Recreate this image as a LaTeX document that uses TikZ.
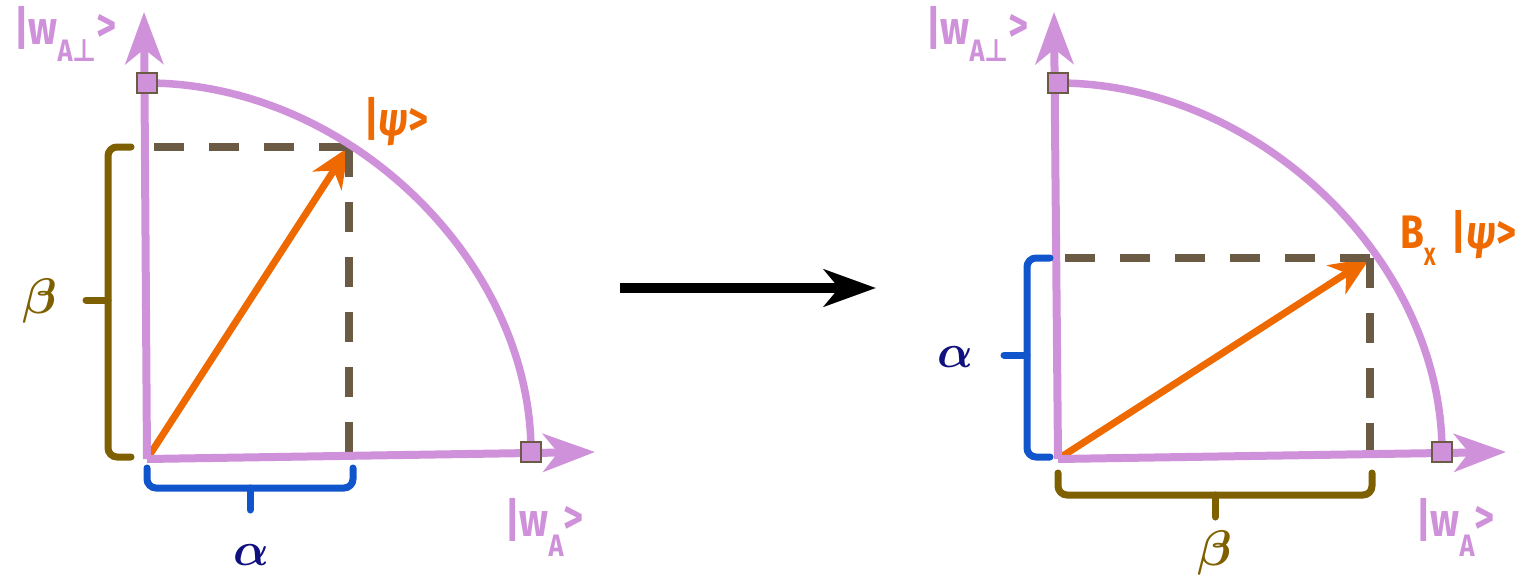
\documentclass[tikz,border=0pt]{standalone}
\usepackage{fontspec}
\setmainfont{Fira Sans}
\newfontfamily\lblf{Fira Sans}[FakeStretch=0.82]
\newfontfamily\djv{DejaVu Sans}[FakeStretch=0.85]
\usepackage{amsmath}
\usepackage{graphicx}
\usetikzlibrary{arrows.meta}
\definecolor{pinkc}{HTML}{CF91D9}
\definecolor{orangec}{HTML}{EE6A00}
\definecolor{dashc}{HTML}{6B5B45}
\definecolor{olivec}{HTML}{7F6000}
\definecolor{bluec}{HTML}{1155CC}
\definecolor{navyc}{HTML}{10107F}
\newcommand\bigf{\lblf\fontsize{47}{50}\selectfont\bfseries}
\newcommand\subf{\lblf\fontsize{31}{34}\selectfont\bfseries}
\newcommand\xsubf{\lblf\fontsize{25}{28}\selectfont\bfseries}
\newcommand\perpg{{\djv\bfseries ⊥}}
\begin{document}
\begin{tikzpicture}[x=1pt,y=-1pt,
  axisline/.style={pinkc, line width=8pt, -{Stealth[length=52pt,width=38pt,inset=15pt]}},
  arcline/.style={pinkc, line width=7.5pt},
  sq/.style={draw=dashc, fill=pinkc, line width=2pt, minimum size=20pt, inner sep=0pt},
  dashline/.style={dashc, line width=7.5pt, dash pattern=on 30pt off 25pt},
  vec/.style={orangec, line width=7pt, -{Stealth[length=40pt,width=34pt,inset=12pt]}},
  bigarrow/.style={black, line width=10pt, -{Stealth[length=52pt,width=37pt,inset=15pt]}},
  bracepath/.style={line width=7pt, rounded corners=9pt, line cap=round},
  ticky/.style={line width=7pt, line cap=round},
  lbl/.style={inner sep=0pt, anchor=base west},
  greek/.style={inner sep=0pt}
]
\useasboundingbox (0,0) rectangle (1520,578);

% ---------- left diagram ----------
\coordinate (o1) at (147,459);
\coordinate (t1) at (144,12);
\coordinate (r1) at (595,452);
\coordinate (c1) at (349,147);
\node[sq] (s1a) at (147,83) {};
\node[sq] (s1b) at (531,452) {};

\draw[vec] (o1) -- (c1);
\draw[dashline] (c1) -- (o1 |- c1);
\draw[dashline] (c1) -- (c1 |- o1);
\draw[axisline] (o1) -- (t1);
\draw[axisline] (o1) -- (r1);
\draw[arcline] (s1a.center) .. controls (347,83) and (531,260) .. (s1b.center);
\node[sq] at (s1a) {};
\node[sq] at (s1b) {};

% left brace (beta)
\draw[olivec, bracepath] (131,147) -- (108,147) -- (108,457) -- (131,457);
\draw[olivec, ticky] (108,300) -- (86,300);
\node[greek, olivec] (beta1) at (40,301) {\scalebox{5}{$\boldsymbol{\beta}$}};
% bottom brace (alpha)
\draw[bluec, bracepath] (147,468) -- (147,488) -- (353,488) -- (353,468);
\draw[bluec, ticky] (250,488) -- (250,510);
\node[greek, navyc] (alpha1) at (251,555) {\scalebox{4.7}{$\boldsymbol{\alpha}$}};

% labels
\node[lbl, pinkc] (wp1) at (14,45) {\bigf |w\raisebox{-17pt}{\subf A\perpg}\raisebox{3pt}{>}};
\node[lbl, pinkc] (wa1) at (505,536) {\bigf |w\raisebox{-20pt}{\subf A}\raisebox{3pt}{>}};
\node[lbl, orangec] (psi1) at (364,135) {\bigf |\textit{ψ}>};

% ---------- arrow ----------
\coordinate (m1) at (620,288);
\coordinate (m2) at (876,288);
\draw[bigarrow] (m1) -- (m2);

% ---------- right diagram ----------
\coordinate (o2) at (1058,459);
\coordinate (t2) at (1054,12);
\coordinate (r2) at (1506,452);
\coordinate (c2) at (1370,258);
\node[sq] (s2a) at (1058,83) {};
\node[sq] (s2b) at (1442,452) {};

\draw[vec] (o2) -- (c2);
\draw[dashline] (c2) -- (o2 |- c2);
\draw[dashline] (c2) -- (c2 |- o2);
\draw[axisline] (o2) -- (t2);
\draw[axisline] (o2) -- (r2);
\draw[arcline] (s2a.center) .. controls (1258,83) and (1442,260) .. (s2b.center);
\node[sq] at (s2a) {};
\node[sq] at (s2b) {};

% left brace (alpha)
\draw[bluec, bracepath] (1050,258) -- (1027,258) -- (1027,457) -- (1050,457);
\draw[bluec, ticky] (1027,355) -- (1004,355);
\node[greek, navyc] (alpha2) at (955,357) {\scalebox{4.7}{$\boldsymbol{\alpha}$}};
% bottom brace (beta)
\draw[olivec, bracepath] (1058,473) -- (1058,495) -- (1372,495) -- (1372,473);
\draw[olivec, ticky] (1215,495) -- (1215,517);
\node[greek, olivec] (beta2) at (1215,553) {\scalebox{5}{$\boldsymbol{\beta}$}};

% labels
\node[lbl, pinkc] (wp2) at (926,45) {\bigf |w\raisebox{-17pt}{\subf A\perpg}\raisebox{3pt}{>}};
\node[lbl, pinkc] (wa2) at (1416,536) {\bigf |w\raisebox{-20pt}{\subf A}\raisebox{3pt}{>}};
\node[lbl, orangec] (psi2) at (1400,248) {\bigf B\raisebox{-17pt}{\xsubf X}\hspace{16pt}|\textit{ψ}>};
\end{tikzpicture}
\end{document}
